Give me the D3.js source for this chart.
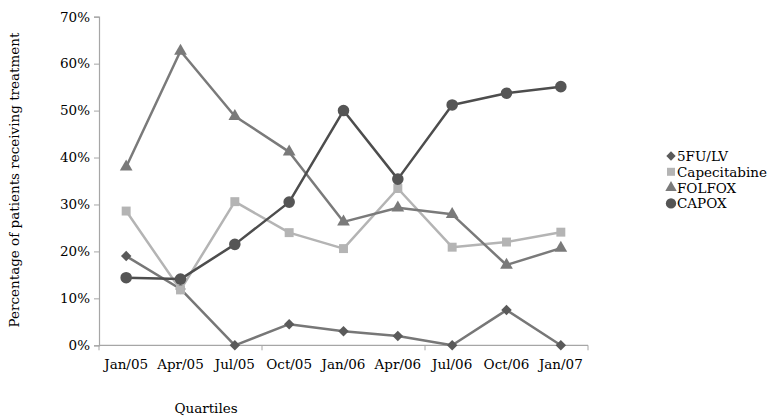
<!DOCTYPE html>
<html><head><meta charset="utf-8">
<script src="https://cdn.jsdelivr.net/npm/d3@7"></script>
<style>body{margin:0;background:#fff}svg text{font-family:"DejaVu Serif",serif;fill:#000}</style>
</head><body><svg id="c" width="772" height="417"></svg>
<script>
const categories = ["Jan/05","Apr/05","Jul/05","Oct/05","Jan/06","Apr/06","Jul/06","Oct/06","Jan/07"];
const fu = [19.0, 12.0, 0, 4.5, 3.0, 2.0, 0, 7.5, 0];
const capecitabine = [28.6, 11.8, 30.6, 24.0, 20.6, 33.4, 20.9, 22.0, 24.1];
const folfox = [38.0, 62.7, 48.8, 41.2, 26.3, 29.3, 27.9, 17.1, 20.7];
const capox = [14.4, 14.1, 21.5, 30.5, 50.0, 35.4, 51.2, 53.7, 55.1];
const yTicks = [0,10,20,30,40,50,60,70];
const seriesNames = ["5FU/LV","Capecitabine","FOLFOX","CAPOX"];

(function(){
const series = [
  {name: seriesNames[0], values: fu, line:"#777", fill:"#5a5a5a", shape: d3.symbolDiamond2, size: 70},
  {name: seriesNames[1], values: capecitabine, line:"#b4b4b4", fill:"#b4b4b4", shape: d3.symbolSquare, size: 80},
  {name: seriesNames[2], values: folfox, line:"#7a7a7a", fill:"#7a7a7a", shape: d3.symbolTriangle, size: 70},
  {name: seriesNames[3], values: capox, line:"#4d4d4d", fill:"#555", shape: d3.symbolCircle, size: 105}
];

const svg = d3.select("#c");
const mLeft = 99, mRight = 588, mTop = 16.7, mBottom = 345.3;
const x = d3.scaleBand().domain(categories).range([mLeft, mRight]).padding(0);
const y = d3.scaleLinear().domain([0,70]).range([mBottom, mTop]);
const cx = d => x(d) + x.bandwidth()/2;
const axisColor = "#a6a6a6";

// Y axis
const ya = svg.append("g").attr("transform", `translate(${mLeft},0)`)
  .call(d3.axisLeft(y).tickValues(yTicks).tickFormat(d => d + "%").tickSize(5).tickPadding(4));
ya.select(".domain").attr("stroke", axisColor).attr("stroke-width",1.2);
ya.selectAll(".tick line").attr("stroke", axisColor);
ya.selectAll("text").style("font-size","13.5px").style("font-family","DejaVu Serif");

// X axis
const xa = svg.append("g").attr("transform", `translate(0,${mBottom})`);
xa.append("line").attr("x1", mLeft).attr("x2", mRight).attr("stroke", axisColor).attr("stroke-width",1.2);
const bounds = [0,3,6,9].map(i => mLeft + i * x.bandwidth());
xa.selectAll("line.tk").data(bounds).enter().append("line").attr("class","tk")
  .attr("x1", d=>d).attr("x2", d=>d).attr("y1",0).attr("y2",5).attr("stroke", axisColor);
xa.selectAll("text").data(categories).enter().append("text")
  .attr("x", d => cx(d)).attr("y", 24).attr("text-anchor","middle")
  .style("font-size","13.5px").text(d => d);

// Lines and markers
const line = d3.line().x((d,i) => cx(categories[i])).y(d => y(d));
series.forEach(s => {
  svg.append("path").datum(s.values).attr("d", line)
    .attr("fill","none").attr("stroke", s.line).attr("stroke-width", 2.5).attr("stroke-linejoin","round");
});
series.forEach(s => {
  svg.selectAll(null).data(s.values).enter().append("path")
    .attr("d", d3.symbol().type(s.shape).size(s.size))
    .attr("transform", (d,i) => `translate(${cx(categories[i])},${y(d)})`)
    .attr("fill", s.fill);
});

// Titles
svg.append("text").attr("transform", "translate(19,180) rotate(-90)")
  .attr("text-anchor","middle").style("font-size","13.5px").text("Percentage of patients receiving treatment");
svg.append("text").attr("x", 206).attr("y", 413).attr("text-anchor","middle")
  .style("font-size","13.5px").text("Quartiles");

// Legend
const lg = svg.append("g");
series.forEach((s,i) => {
  const yy = 156 + i*15.8;
  lg.append("path").attr("d", d3.symbol().type(s.shape).size(s.size*0.8))
    .attr("transform", `translate(671,${yy})`).attr("fill", s.fill);
  lg.append("text").attr("x", 677).attr("y", yy + 5).style("font-size","13.5px").text(s.name);
});
})();
</script></body></html>
